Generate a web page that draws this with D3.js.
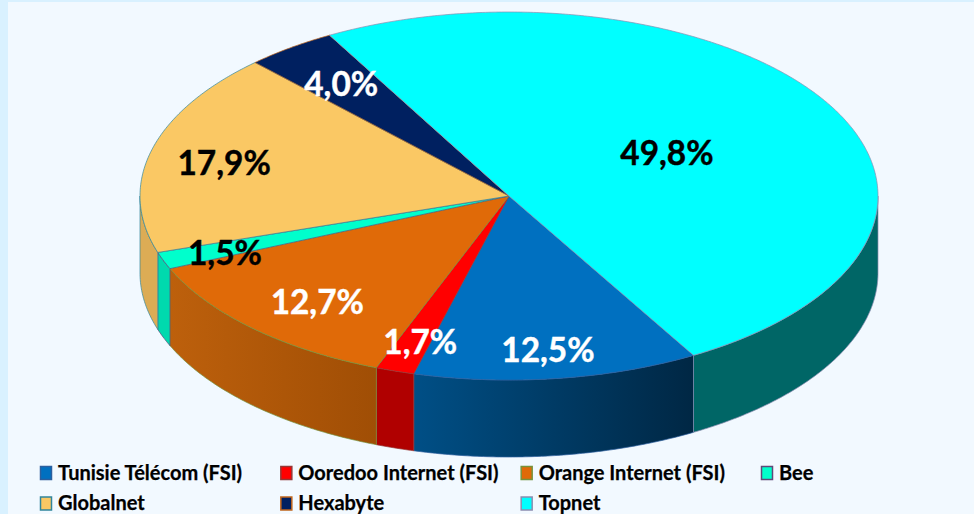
<!DOCTYPE html>
<html>
<head>
<meta charset="utf-8">
<script src="https://cdn.jsdelivr.net/npm/d3@7"></script>
<style>
html,body{margin:0;padding:0;background:#d9f1ff;overflow:hidden}
svg{display:block}
text{font-family:Lato,"Open Sans",sans-serif;font-weight:700}
</style>
</head>
<body>
<svg id="c" width="974" height="514"></svg>
<script>
const categories = ["Tunisie Télécom (FSI)","Ooredoo Internet (FSI)","Orange Internet (FSI)","Bee","Globalnet","Hexabyte","Topnet"];
const values = [12.5,1.7,12.7,1.5,17.9,4.0,49.8];
const valueLabels = ["12,5%","1,7%","12,7%","1,5%","17,9%","4,0%","49,8%"];
const topColors = ["#0070c0","#ff0000","#e06a08","#00ffcc","#fac864","#002060","#00ffff"];
const sideFrom = ["#004f86","#b00000","#bd600c","#00d9ae","#dcac55","#001a50","#006666"];
const sideTo = ["#002744","#b00000","#a04e05","#00d9ae","#dcac55","#001a50","#006666"];
const edgeColors = ["#2c5f9e","#953735","#76923c","#5f497a","#31859c","#c0651c","#8c8cb0"];
const labelColors = ["#fff","#fff","#fff","#000","#000","#fff","#000"];
const labelAngles = [172.8,196.9,222.3,248.2,283.2,323.3,61.1];
const labelRadii = [0.842,0.827,0.772,0.829,0.793,0.761,0.489];

const svg = d3.select("#c");
svg.append("rect").attr("x",8).attr("y",2).attr("width",966).attr("height",512).attr("fill","#f2f9ff");

const cx=509, cy=196, rx=369, ry=184, depth=77;
const rad = d=>d*Math.PI/180;
const sx = d3.scaleLinear().domain([-1,1]).range([cx-rx,cx+rx]);
const sy = d3.scaleLinear().domain([-1,1]).range([cy-ry,cy+ry]);
const ptAt = (a,r=1,dz=0)=>{const [x,y]=d3.pointRadial(a,r);return [sx(x),sy(y)+dz];};
const line = d3.line();

const arcs = d3.pie().sort(null).value(d=>d).startAngle(rad(150)).endAngle(rad(510))(values);
const sample = (a0,a1)=>{const n=Math.max(2,Math.ceil((a1-a0)/rad(0.5)));return d3.range(n+1).map(i=>a0+(a1-a0)*i/n);};

const defs = svg.append("defs");
const fHi=rad(270), fLo=rad(90);
arcs.forEach((d,i)=>{
  const g=defs.append("linearGradient").attr("id","g"+i);
  g.append("stop").attr("offset",0).attr("stop-color",sideFrom[i]);
  g.append("stop").attr("offset",1).attr("stop-color",sideTo[i]);
  [[d.startAngle,d.endAngle],[d.startAngle-2*Math.PI,d.endAngle-2*Math.PI]].forEach(([s,e])=>{
    const a0=Math.max(s,fLo), a1=Math.min(e,fHi);
    if(a1<=a0) return;
    const as=sample(a0,a1);
    const pts=as.map(a=>ptAt(a)).concat(as.slice().reverse().map(a=>ptAt(a,1,depth)));
    svg.append("path").attr("d",line(pts)+"Z").attr("fill",`url(#g${i})`)
      .attr("stroke",edgeColors[i]).attr("stroke-width",0.7);
  });
});
arcs.forEach((d,i)=>{
  const pts=[ptAt(0,0)].concat(sample(d.startAngle,d.endAngle).map(a=>ptAt(a)));
  svg.append("path").attr("d",line(pts)+"Z").attr("fill",topColors[i])
    .attr("stroke",edgeColors[i]).attr("stroke-width",0.7).attr("stroke-linejoin","round");
});
valueLabels.forEach((t,i)=>{
  const [x,y]=ptAt(rad(labelAngles[i]),labelRadii[i]);
  svg.append("text").attr("x",x).attr("y",y+1).attr("dy","0.35em").attr("text-anchor","middle")
    .attr("font-size",33.4).attr("fill",labelColors[i])
    .attr("stroke",labelColors[i]).attr("stroke-width",0.4).text(t);
});
const legX=d3.scalePoint().domain(d3.range(4)).range([40,761]);
categories.forEach((c,i)=>{
  const col=i%4,row=Math.floor(i/4);
  const x=legX(col),y=466.5+row*30.5;
  svg.append("rect").attr("x",x+.5).attr("y",y).attr("width",11).attr("height",13)
    .attr("fill",topColors[i]).attr("stroke",edgeColors[i]).attr("stroke-width",1.5);
  svg.append("text").attr("x",x+18).attr("y",y+13).attr("font-size",20).attr("fill","#000")
    .attr("stroke","#000").attr("stroke-width",0.25).text(c);
});
</script>
</body>
</html>
